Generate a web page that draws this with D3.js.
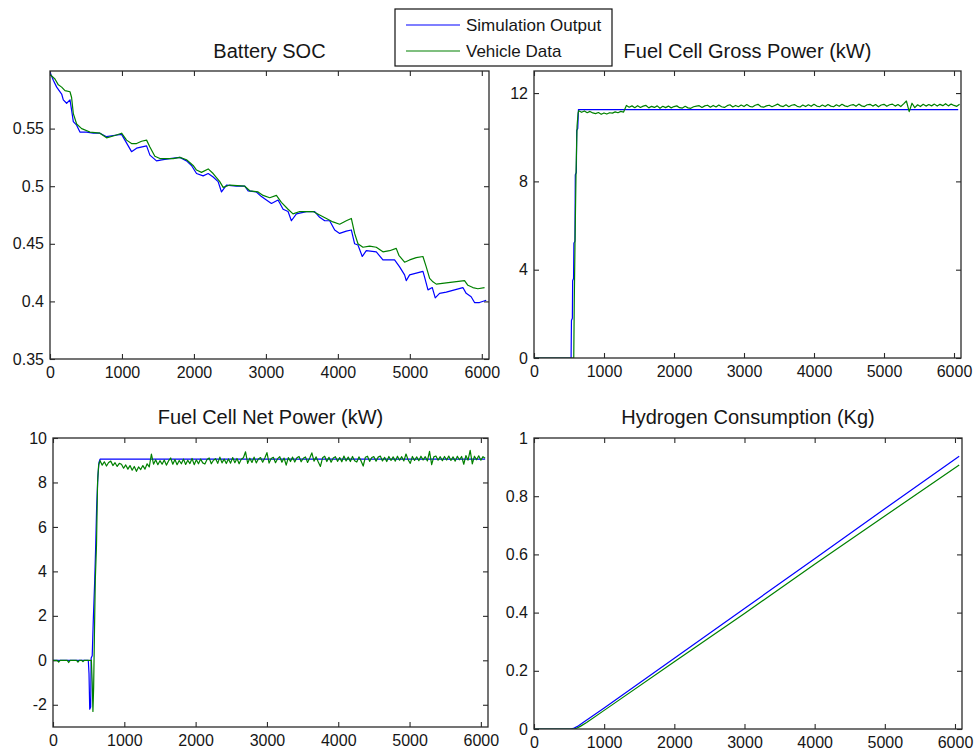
<!DOCTYPE html>
<html>
<head>
<meta charset="utf-8">
<script src="https://cdn.jsdelivr.net/npm/d3@7"></script>
<style>
  html, body { margin: 0; padding: 0; background: #fff; }
  svg { display: block; font-family: "Liberation Sans", Arial, Helvetica, sans-serif; }
  .tick text { fill: #161616; }
</style>
</head>
<body>
<svg id="chart" width="974" height="751"></svg>
<script>
// ---- Series names ----
const seriesNames = ["Simulation Output", "Vehicle Data"];
const seriesColors = ["#0000ff", "#008000"];

// ---- Shared time axis ----
const timeTicks = [0, 1000, 2000, 3000, 4000, 5000, 6000];

// ---- Battery SOC [time s, SOC] ----
const socSimulation = [
  [0,0.599],[46,0.592],[93,0.586],[162,0.580],[185,0.575],[231,0.572],[278,0.575],[300,0.566],
  [324,0.556],[370,0.553],[416,0.547],[509,0.547],[601,0.546],[694,0.546],[786,0.543],[879,0.544],
  [995,0.545],[1041,0.540],[1087,0.535],[1133,0.530],[1203,0.533],[1342,0.535],[1388,0.527],
  [1480,0.522],[1573,0.523],[1666,0.524],[1804,0.525],[1897,0.522],[1966,0.518],[2036,0.511],
  [2128,0.509],[2198,0.511],[2267,0.508],[2336,0.504],[2383,0.495],[2452,0.501],[2591,0.500],
  [2706,0.500],[2753,0.496],[2868,0.495],[2938,0.491],[3007,0.488],[3077,0.485],[3169,0.488],
  [3239,0.480],[3308,0.478],[3354,0.470],[3424,0.476],[3562,0.478],[3678,0.478],[3747,0.473],
  [3817,0.470],[3886,0.470],[3956,0.462],[4025,0.459],[4117,0.461],[4187,0.462],[4233,0.450],
  [4279,0.449],[4339,0.439],[4395,0.444],[4534,0.443],[4626,0.436],[4788,0.436],[4858,0.430],
  [4927,0.423],[4950,0.418],[4997,0.423],[5182,0.426],[5205,0.421],[5252,0.410],[5312,0.412],
  [5353,0.403],[5413,0.407],[5506,0.408],[5737,0.412],[5783,0.407],[5852,0.404],[5899,0.399],
  [5968,0.399],[6061,0.401]
];
const socVehicle = [
  [0,0.597],[69,0.593],[116,0.588],[162,0.586],[208,0.583],[278,0.582],[300,0.577],[324,0.563],
  [370,0.554],[440,0.550],[555,0.547],[694,0.546],[786,0.542],[902,0.544],[995,0.546],[1064,0.540],
  [1133,0.537],[1203,0.537],[1272,0.539],[1342,0.540],[1388,0.534],[1457,0.526],[1527,0.524],
  [1712,0.524],[1804,0.525],[1897,0.523],[1989,0.518],[2036,0.514],[2105,0.512],[2198,0.515],
  [2267,0.511],[2359,0.504],[2406,0.499],[2498,0.501],[2706,0.500],[2776,0.496],[2891,0.495],
  [2961,0.492],[3053,0.490],[3146,0.492],[3215,0.486],[3308,0.480],[3377,0.476],[3470,0.478],
  [3655,0.478],[3747,0.475],[3840,0.472],[3932,0.469],[4025,0.467],[4117,0.470],[4187,0.472],
  [4233,0.459],[4279,0.450],[4348,0.447],[4441,0.448],[4534,0.447],[4626,0.443],[4719,0.444],
  [4811,0.446],[4848,0.440],[4927,0.434],[4997,0.436],[5089,0.438],[5182,0.439],[5228,0.430],
  [5275,0.420],[5321,0.417],[5367,0.415],[5506,0.416],[5760,0.418],[5807,0.414],[5876,0.412],
  [5945,0.411],[6038,0.412]
];
const socTicks = [0.35, 0.4, 0.45, 0.5, 0.55];

// ---- Fuel cell gross power (kW) ----
const grossSimulation = [
  [0,0],[530,0],[535,1.7],[548,1.8],[552,3.5],[565,3.6],[570,5.2],[585,5.3],[590,8.3],
  [605,8.4],[610,10.3],[625,10.4],[635,11.25],[6060,11.25]
];
const grossVehicleStartup = [
  [0,0],[568,0],[575,2.5],[585,5.0],[600,8.3],[615,10.5],[630,11.1]
];
const grossLogStart = 640, grossLogStep = 40;
const grossVehicleLog = [
  11.20,11.13,11.19,11.11,11.17,11.10,11.07,11.12,11.04,11.10,11.05,11.11,11.09,11.15,11.11,11.17,11.14,
  11.44,11.36,11.42,11.34,11.43,11.35,11.41,11.44,11.33,11.40,
  11.35,11.42,11.31,11.40,11.34,11.41,11.33,11.39,11.42,11.34,
  11.32,11.40,11.33,11.31,11.38,11.41,11.43,11.35,11.42,11.45,
  11.36,11.44,11.37,11.46,11.38,11.35,11.43,11.47,11.37,11.44,
  11.38,11.46,11.39,11.48,11.40,11.37,11.45,11.49,11.39,11.36,
  11.42,11.45,11.38,11.44,11.50,11.42,11.39,11.47,11.38,11.45,
  11.48,11.40,11.37,11.46,11.39,11.47,11.40,11.49,11.41,11.38,
  11.46,11.39,11.48,11.41,11.38,11.47,11.40,11.49,11.42,11.39,
  11.45,11.48,11.40,11.50,11.42,11.39,11.47,11.49,11.41,11.48,
  11.38,11.46,11.49,11.40,11.47,11.50,11.41,11.48,11.39,11.51,
  11.64,11.16,11.54,11.34,11.47,11.39,11.49,11.41,11.48,11.42,
  11.50,11.41,11.49,11.43,11.52,11.42,11.50,11.44,11.40,11.49
];
const grossTicks = [0, 4, 8, 12];

// ---- Fuel cell net power (kW) ----
const netSimulation = [
  [0,0],[495,0],[505,-0.6],[515,-2.2],[528,-2.1],[535,0.1],[550,0.2],[565,1.8],[585,3.6],
  [600,5.3],[612,6.9],[630,8.3],[645,8.9],[660,9.05],[6060,9.05]
];
const netVehicleStartup = [
  [0,0],[60,0],[80,-0.08],[100,0],[200,0],[220,-0.1],[240,0],[330,0],[350,-0.08],[370,0],
  [400,0],[420,-0.06],[440,0],[538,0],[550,-1.0],[560,-2.3],[570,-1.2],[580,1.0],[593,3.6],
  [610,5.2],[625,8.0],[640,8.8]
];
const netLogStart = 660, netLogStep = 30;
const netVehicleLog = [
  8.98,8.78,8.93,8.74,8.90,8.96,8.76,8.89,8.72,8.86,
  8.82,8.64,8.79,8.60,8.76,8.55,8.72,8.50,8.70,8.58,
  8.76,8.60,8.84,8.70,9.28,8.82,9.02,8.80,8.98,8.82,
  9.01,8.78,8.97,9.10,8.82,9.03,8.80,8.99,8.84,9.05,
  8.81,9.00,8.85,9.08,8.80,9.02,8.84,9.05,8.88,8.83,
  9.03,9.10,8.84,9.00,9.07,8.86,9.14,8.88,9.05,8.85,
  9.06,8.87,9.12,8.89,9.08,8.84,9.04,9.11,9.38,8.86,
  9.09,8.90,9.14,8.88,9.06,9.12,8.91,9.10,9.34,8.87,
  9.08,9.13,8.89,9.07,9.16,8.91,9.10,8.78,9.12,8.94,
  9.14,8.92,9.11,9.17,8.93,9.09,9.15,8.90,9.10,9.33,
  8.96,9.15,8.92,8.72,9.11,9.18,8.94,9.13,8.91,9.10,
  9.16,8.95,9.12,8.93,9.19,8.97,9.14,8.94,9.17,8.98,
  8.92,9.15,8.97,8.74,9.13,9.18,8.95,9.12,9.16,8.96,
  9.14,9.19,8.97,9.13,8.94,9.17,8.99,9.15,8.96,9.18,
  9.00,9.16,8.97,9.28,9.02,8.86,9.17,8.99,9.15,8.98,
  9.18,9.01,9.16,8.97,9.40,8.80,9.15,9.19,9.00,9.16,
  8.98,9.17,9.01,9.19,8.99,9.15,8.96,9.18,9.02,9.17,
  8.82,9.21,9.00,9.44,8.84,9.18,9.02,9.20,9.00,9.16,
  9.09
];
const netTicks = [-2, 0, 2, 4, 6, 8, 10];

// ---- Hydrogen consumption (kg) ----
const h2Simulation = [
  [0,0],[520,0],[560,0.002],[620,0.009],[700,0.022],[1000,0.072],[2000,0.243],[3000,0.414],
  [4000,0.585],[5000,0.757],[6060,0.937]
];
const h2Vehicle = [
  [0,0],[560,0],[600,0.002],[660,0.009],[750,0.022],[1000,0.064],[2000,0.231],[3000,0.397],
  [4000,0.566],[5000,0.732],[6060,0.907]
];
const h2Ticks = [0, 0.2, 0.4, 0.6, 0.8, 1];

// Expand a regularly logged record into [time, value] pairs
function logged(start, step, values) {
  return values.map((v, i) => [start + i * step, v]);
}

const svg = d3.select("#chart");
svg.append("rect").attr("width", 974).attr("height", 751).attr("fill", "#fff");

const textColor = "#161616";
const frameColor = "#2a2a2a";

function drawPanel(cfg, idx) {
  const { left, top, right, bottom } = cfg.box;
  const x = d3.scaleLinear().domain([0, 6100]).range([left, right]);
  const y = d3.scaleLinear().domain(cfg.yDomain).range([bottom, top]);
  const g = svg.append("g");

  const clipId = "clip" + idx;
  g.append("clipPath").attr("id", clipId)
    .append("rect").attr("x", left).attr("y", top)
    .attr("width", right - left).attr("height", bottom - top);

  const styleAxis = sel => {
    sel.select(".domain").remove();
    sel.selectAll(".tick line").attr("stroke", frameColor).attr("stroke-width", 1.1);
    sel.selectAll(".tick text").attr("fill", textColor).attr("font-size", 16);
  };

  g.append("g").attr("transform", `translate(0,${bottom})`)
    .call(d3.axisBottom(x).tickValues(timeTicks).tickSize(-5).tickPadding(8).tickFormat(d3.format("d")))
    .call(styleAxis)
    .selectAll(".tick text").attr("dy", "0.71em");
  g.append("g").attr("transform", `translate(0,${top})`)
    .call(d3.axisTop(x).tickValues(timeTicks).tickSize(-5).tickFormat(""))
    .call(styleAxis);
  g.append("g").attr("transform", `translate(${left},0)`)
    .call(d3.axisLeft(y).tickValues(cfg.yTicks).tickSize(-5).tickPadding(6).tickFormat(d => String(d)))
    .call(styleAxis);
  g.append("g").attr("transform", `translate(${right},0)`)
    .call(d3.axisRight(y).tickValues(cfg.yTicks).tickSize(-5).tickFormat(""))
    .call(styleAxis);

  const line = d3.line().x(d => x(d[0])).y(d => y(d[1]));
  const plot = g.append("g").attr("clip-path", `url(#${clipId})`);
  cfg.series.forEach((s, i) => {
    plot.append("path").datum(s)
      .attr("fill", "none")
      .attr("stroke", seriesColors[i])
      .attr("stroke-width", 1.2)
      .attr("stroke-linejoin", "round")
      .attr("d", line);
  });

  g.append("rect")
    .attr("x", left).attr("y", top)
    .attr("width", right - left).attr("height", bottom - top)
    .attr("fill", "none").attr("stroke", frameColor).attr("stroke-width", 1.3);

  g.append("text")
    .attr("x", (left + right) / 2).attr("y", cfg.titleY)
    .attr("text-anchor", "middle").attr("font-size", 20).attr("fill", textColor)
    .text(cfg.title);
}

const panels = [
  {
    title: "Battery SOC", titleY: 58,
    box: { left: 50, top: 71, right: 489, bottom: 359 },
    yDomain: [0.35, 0.6], yTicks: socTicks,
    series: [socSimulation, socVehicle]
  },
  {
    title: "Fuel Cell Gross Power (kW)", titleY: 58,
    box: { left: 534, top: 71, right: 961, bottom: 358 },
    yDomain: [0, 13], yTicks: grossTicks,
    series: [grossSimulation, grossVehicleStartup.concat(logged(grossLogStart, grossLogStep, grossVehicleLog))]
  },
  {
    title: "Fuel Cell Net Power (kW)", titleY: 424,
    box: { left: 53, top: 438, right: 488, bottom: 727 },
    yDomain: [-3, 10], yTicks: netTicks,
    series: [netSimulation, netVehicleStartup.concat(logged(netLogStart, netLogStep, netVehicleLog))]
  },
  {
    title: "Hydrogen Consumption (Kg)", titleY: 424,
    box: { left: 534, top: 438, right: 962, bottom: 729 },
    yDomain: [0, 1], yTicks: h2Ticks,
    series: [h2Simulation, h2Vehicle]
  }
];
panels.forEach(drawPanel);

// Legend box above the top row
const legend = svg.append("g");
legend.append("rect")
  .attr("x", 395).attr("y", 9).attr("width", 217).attr("height", 57)
  .attr("fill", "#fff").attr("stroke", "#111").attr("stroke-width", 1.2);
seriesNames.forEach((name, i) => {
  const yy = 25 + i * 26;
  legend.append("line")
    .attr("x1", 406).attr("x2", 460).attr("y1", yy).attr("y2", yy)
    .attr("stroke", seriesColors[i]).attr("stroke-width", 1.2);
  legend.append("text")
    .attr("x", 466).attr("y", yy).attr("dy", "0.36em")
    .attr("font-size", 17).attr("fill", textColor)
    .text(name);
});
</script>
</body>
</html>
